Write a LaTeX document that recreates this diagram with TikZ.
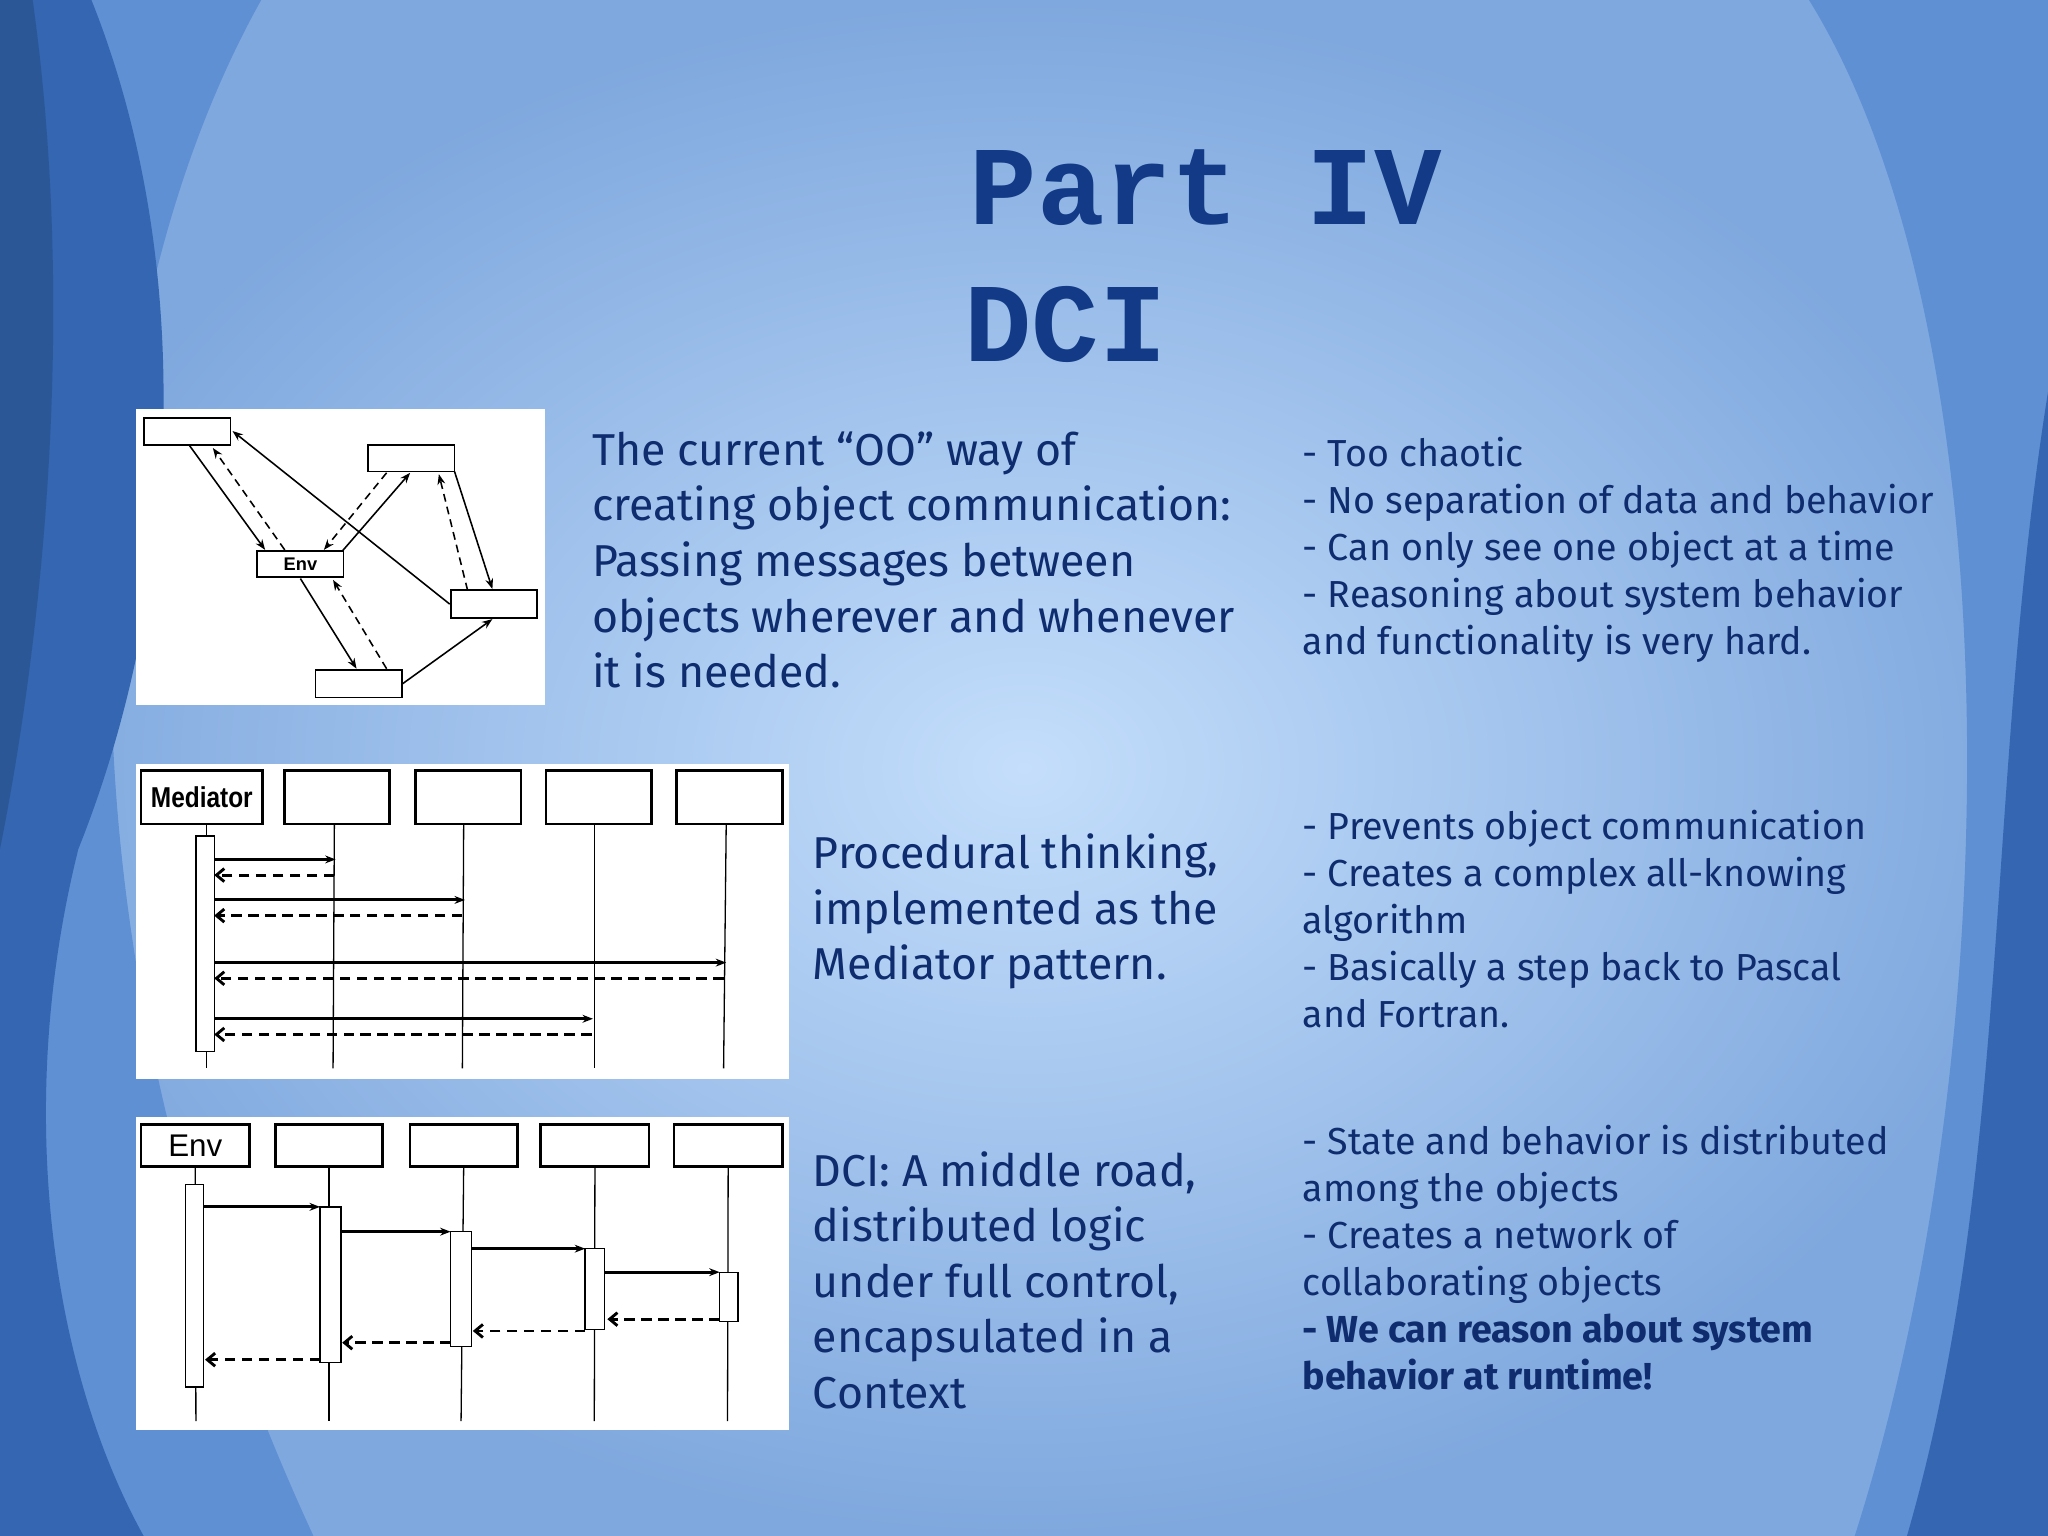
\documentclass[tikz,border=0pt]{standalone}
\usepackage{fontspec}
\setmainfont{Fira Sans}
\newfontfamily\titlefont{Liberation Mono}
\newfontfamily\labfont{Liberation Sans}
\usetikzlibrary{arrows.meta}
\definecolor{txt}{HTML}{0E2C6E}
\definecolor{ttl}{HTML}{123A86}
\definecolor{bgc}{HTML}{C4DEFB}
\definecolor{bge}{HTML}{7FA8DE}
\definecolor{dk}{HTML}{3466B2}
\definecolor{md}{HTML}{5F90D4}
\tikzset{
  obj/.style={draw,fill=white,line width=0.7pt,minimum width=#1,minimum height=10pt,inner sep=0pt},
  act/.style={draw,fill=white,line width=0.5pt,inner sep=0pt},
  sol/.style={-{Stealth[length=4pt,width=3pt]},line width=1.1pt},
  das/.style={-{Straight Barb[length=3pt,width=5pt]},line width=1.1pt,dash pattern=on 4pt off 2.5pt},
  sol1/.style={-{Stealth[length=4pt,width=3pt]},line width=0.6pt},
  das1/.style={-{Stealth[length=4pt,width=3pt]},line width=0.6pt,dash pattern=on 3pt off 2pt},
  lif/.style={line width=0.5pt},
  body/.style={anchor=north west,align=left,text=txt,inner sep=0pt,font=\fontsize{17.1}{21.3}\selectfont},
  side/.style={anchor=north west,align=left,text=txt,inner sep=0pt,font=\fontsize{14.4}{18}\selectfont},
}
\begin{document}
\begin{tikzpicture}[x=0.5pt,y=-0.5pt]
\useasboundingbox (0,0) rectangle (1568,1176);
\shade[inner color=bgc,outer color=bge] (0,0) rectangle (1568,1176);
% left waves
\fill[md] (0,0) -- (200,0) .. controls (60,250) and (20,700) .. (240,1176) -- (0,1176) -- cycle;
\fill[dk] (0,0) -- (70,0) .. controls (150,200) and (140,450) .. (60,650) .. controls (10,850) and (40,1050) .. (110,1176) -- (0,1176) -- cycle;
\fill[dk!85!black] (0,0) -- (25,0) .. controls (60,250) and (30,500) .. (0,650) -- cycle;
% right
\fill[md] (1568,0) -- (1385,0) .. controls (1540,250) and (1540,800) .. (1420,1176) -- (1568,1176) -- cycle;
\fill[dk] (1568,300) .. controls (1520,600) and (1540,900) .. (1460,1176) -- (1568,1176) -- cycle;
% title
\node[anchor=base west,inner sep=0pt,text=ttl,font=\titlefont\bfseries\fontsize{43}{43}\selectfont] (t1) at (742,172) {Part IV};
\node[anchor=base west,inner sep=0pt,text=ttl,font=\titlefont\bfseries\fontsize{43}{43}\selectfont] (t2) at (738,277) {DCI};
% diagram 1
\fill[white] (104,313) rectangle (417,540);
\node[obj=33pt,minimum height=10.5pt] (a) at (143.5,330.5) {};
\node[obj=33pt,minimum height=10pt] (b) at (315,351) {};
\node[obj=33pt,minimum height=10pt,font=\labfont\bfseries\fontsize{7}{7}\selectfont] (env) at (230,432) {Env};
\node[obj=33pt,minimum height=10.5pt] (c) at (378,462.5) {};
\node[obj=33pt,minimum height=10.5pt] (d) at (274.5,523.5) {};
\draw[sol1] (145,341) -- (203,421);
\draw[das1] (218,421) -- (163,343);
\draw[sol1] (c.west) -- (178,330);
\draw[sol1] (262,422) -- (314,362);
\draw[das1] (296,362) -- (248,421);
\draw[das1] (358,452) -- (336,363);
\draw[sol1] (348,361) -- (377,451);
\draw[sol1] (230,443) -- (273,512);
\draw[das1] (296,512) -- (255,444);
\draw[sol1] (d.east) -- (377,474);
% diagram 2
\fill[white] (104,585) rectangle (604,826);
\node[obj=46.5pt,minimum height=20.5pt,line width=1pt,font=\labfont\bfseries\fontsize{11}{11}\selectfont] (m0) at (154.5,610.5) {\scalebox{0.85}[1]{Mediator}};
\node[obj=40pt,minimum height=20.5pt,line width=1pt] (m1) at (258,610.5) {};
\node[obj=40.5pt,minimum height=20.5pt,line width=1pt] (m2) at (358.5,610.5) {};
\node[obj=40.5pt,minimum height=20.5pt,line width=1pt] (m3) at (458.5,610.5) {};
\node[obj=40.5pt,minimum height=20.5pt,line width=1pt] (m4) at (558.5,610.5) {};
\draw[lif] (158,631) -- (158,818);
\draw[lif] (256,631) -- (255,818);
\draw[lif] (355,631) -- (354,818);
\draw[lif] (455,631) -- (455,818);
\draw[lif] (556,631) -- (554,818);
\node[act,minimum width=7pt,minimum height=82.5pt] (ma) at (157,722.5) {};
\draw[sol] (164,658) -- (257,658);
\draw[das] (256,670) -- (164,670);
\draw[sol] (164,689) -- (356,689);
\draw[das] (354,701) -- (164,701);
\draw[sol] (164,737) -- (556,737);
\draw[das] (554,749) -- (164,749);
\draw[sol] (164,780) -- (454,780);
\draw[das] (453,792) -- (164,792);
% diagram 3
\fill[white] (104,855) rectangle (604,1095);
\node[obj=41.5pt,minimum height=16pt,line width=1pt,font=\labfont\fontsize{12}{12}\selectfont] (e0) at (149.5,877) {Env};
\node[obj=41pt,minimum height=16pt,line width=1pt] (e1) at (252,877) {};
\node[obj=41pt,minimum height=16pt,line width=1pt] (e2) at (355,877) {};
\node[obj=41.5pt,minimum height=16pt,line width=1pt] (e3) at (455.5,877) {};
\node[obj=41.5pt,minimum height=16pt,line width=1pt] (e4) at (557.5,877) {};
\foreach \x/\n in {150/e0,252/e1,353/e2,455/e3,557/e4} \draw[lif] (\n.south) -- (\x,1088);
\node[act,minimum width=7pt,minimum height=77.5pt] (q0) at (149,984.5) {};
\node[act,minimum width=8pt,minimum height=59.5pt] (q1) at (253,983.5) {};
\node[act,minimum width=8pt,minimum height=44pt] (q2) at (353,987) {};
\node[act,minimum width=7.5pt,minimum height=31pt] (q3) at (455.5,987) {};
\node[act,minimum width=7pt,minimum height=19pt] (q4) at (558,993) {};
\draw[sol] (156,924) -- (245,924);
\draw[sol] (261,943) -- (345,943);
\draw[sol] (361,956) -- (448,956);
\draw[sol] (463,974) -- (551,974);
\draw[das] (551,1010) -- (465,1010);
\draw[das] (448,1019) -- (362,1019);
\draw[das] (345,1028) -- (262,1028);
\draw[das] (245,1041) -- (157,1041);
% texts
\node[body] (x1) at (453,330) {The current “OO” way of\\creating object communication:\\Passing messages between\\objects wherever and whenever\\it is needed.};
\node[body] (x2) at (622,638) {Procedural thinking,\\implemented as the\\Mediator pattern.};
\node[body] (x3) at (622,881) {DCI: A middle road,\\distributed logic\\under full control,\\encapsulated in a\\Context};
\node[side] (s1) at (997,334) {- Too chaotic\\- No separation of data and behavior\\- Can only see one object at a time\\- Reasoning about system behavior\\and functionality is very hard.};
\node[side] (s2) at (997,620) {- Prevents object communication\\- Creates a complex all-knowing\\algorithm\\- Basically a step back to Pascal\\and Fortran.};
\node[side] (s3) at (997,861) {- State and behavior is distributed\\among the objects\\- Creates a network of\\collaborating objects\\\textbf{- We can reason about system}\\\textbf{behavior at runtime!}};
\end{tikzpicture}
\end{document}
